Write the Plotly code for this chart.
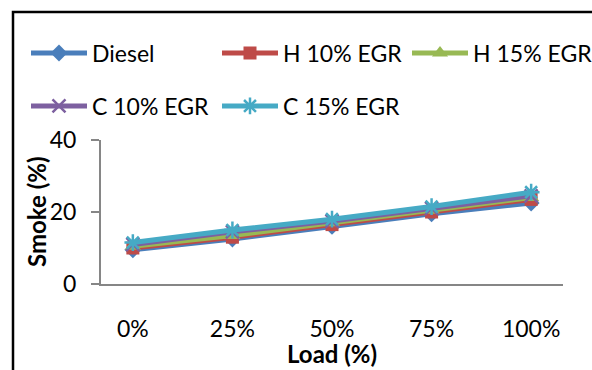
import plotly.graph_objects as go

# Engine load categories
loads = ["0%", "25%", "50%", "75%", "100%"]

# Smoke opacity (%) per fuel / EGR configuration
diesel = [9.5, 12.5, 16.0, 19.5, 22.5]
h_10_egr = [10.0, 13.0, 16.5, 20.0, 23.5]
h_15_egr = [10.5, 13.5, 17.0, 20.5, 24.0]
c_10_egr = [11.0, 14.5, 17.5, 21.0, 24.5]
c_15_egr = [11.5, 15.0, 18.0, 21.5, 25.5]

W, H = 592, 370
L, R, T, B = 101, 29, 140, 86
PW, PH = W - L - R, H - T - B

FONT = "Lato"
AXIS_GREY = "#868686"


def px_x(x):
    return (x - L) / PW


def px_y(y):
    return (H - B - y) / PH


# name, values, colour, marker, legend id, legend position (px)
series = [
    ("Diesel", diesel, "#4A7EBB", dict(symbol="diamond", size=13),
     "legend", (26, 53)),
    ("H 10% EGR", h_10_egr, "#BE4B48", dict(symbol="square", size=13),
     "legend2", (217, 53)),
    ("H 15% EGR", h_15_egr, "#98B954", dict(symbol="triangle-up", size=14),
     "legend3", (407, 53)),
    ("C 10% EGR", c_10_egr, "#7D60A0",
     dict(symbol="x-thin", size=13, line=dict(width=2.5)), "legend4", (26, 106)),
    ("C 15% EGR", c_15_egr, "#46AAC5",
     dict(symbol="asterisk", size=14, line=dict(width=2.5)), "legend5", (217, 106)),
]

fig = go.Figure()
legends = {}
for name, vals, color, mk, leg, (lx, ly) in series:
    marker = dict(color=color, **mk)
    if "line" in marker:
        marker["line"] = dict(color=color, **marker["line"])
    fig.add_trace(go.Scatter(
        x=loads, y=vals, name=name, mode="lines+markers",
        line=dict(color=color, width=5),
        marker=marker, legend=leg,
    ))
    legends[leg] = dict(
        x=px_x(lx), y=px_y(ly), xanchor="left", yanchor="middle",
        orientation="h", itemwidth=56,
        font=dict(family=FONT, size=23, color="#000000"),
        bgcolor="rgba(0,0,0,0)", borderwidth=0,
        itemclick=False, itemdoubleclick=False,
    )

fig.update_layout(
    width=W, height=H,
    margin=dict(l=L, r=R, t=T, b=B, autoexpand=False),
    paper_bgcolor="white", plot_bgcolor="white",
    font=dict(family=FONT, size=23, color="#000000"),
    showlegend=True,
    xaxis=dict(
        type="category", showgrid=False, zeroline=False,
        showline=True, linecolor=AXIS_GREY, linewidth=2,
        ticks="", ticklabelstandoff=23, automargin=False,
        tickfont=dict(family=FONT, size=23),
    ),
    yaxis=dict(
        range=[0, 40], tickvals=[0, 20, 40], showgrid=False, zeroline=False,
        showline=True, linecolor=AXIS_GREY, linewidth=2,
        ticks="outside", ticklen=8, tickcolor=AXIS_GREY, tickwidth=2,
        ticklabelstandoff=10, automargin=False,
        tickfont=dict(family=FONT, size=23),
    ),
    annotations=[
        # axis titles
        dict(text="<b>Load (%)</b>", xref="paper", yref="paper",
             x=px_x(332), y=px_y(353), xanchor="center", yanchor="middle",
             showarrow=False, font=dict(family=FONT, size=24, color="#000000")),
        dict(text="<b>Smoke (%)</b>", xref="paper", yref="paper",
             x=px_x(36), y=px_y(212), xanchor="center", yanchor="middle",
             textangle=-90, showarrow=False,
             font=dict(family=FONT, size=24, color="#000000")),
    ],
    shapes=[
        # chart frame (extends past the right and bottom edges)
        dict(type="rect", xref="paper", yref="paper",
             x0=px_x(13), x1=px_x(W + 20), y0=px_y(H + 20), y1=px_y(12),
             line=dict(color="#000000", width=2.5), fillcolor="rgba(0,0,0,0)",
             layer="below"),
    ],
    **legends,
)

fig.write_html("out.html")
